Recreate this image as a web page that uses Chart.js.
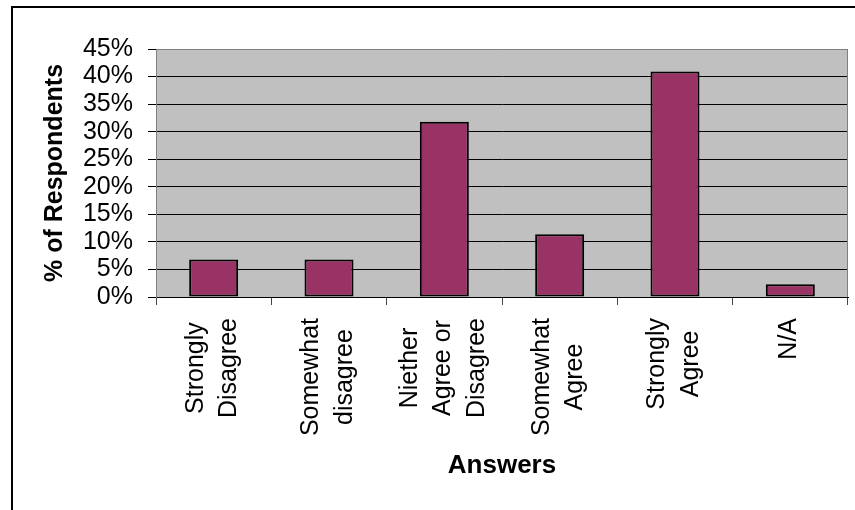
<!DOCTYPE html>
<html>
<head>
<meta charset="utf-8">
<script src="https://cdn.jsdelivr.net/npm/chart.js@4/dist/chart.umd.min.js"></script>
<style>
  html, body { margin: 0; padding: 0; background: #fff; overflow: hidden; }
  #wrap { position: relative; width: 855px; height: 510px; }
  #frame { position: absolute; left: 11px; top: 6px; width: 1000px; height: 1000px;
           border-left: 2px solid #000; border-top: 2px solid #000; }
  #chart { position: absolute; left: 0; top: 0; }
</style>
</head>
<body>
<div id="wrap">
  <div id="frame"></div>
  <canvas id="chart" width="855" height="510"></canvas>
</div>
<script>
// survey answers (multi-line category labels)
const categories = [
  ['Strongly', 'Disagree'],
  ['Somewhat', 'disagree'],
  ['Niether', 'Agree or', 'Disagree'],
  ['Somewhat', 'Agree'],
  ['Strongly', 'Agree'],
  ['N/A']
];
const respondentPct = [6.8, 6.8, 31.8, 11.4, 40.9, 2.3];
const yTicks = [0, 5, 10, 15, 20, 25, 30, 35, 40, 45];

const FONT = "'Liberation Sans', Arial, sans-serif";
const LABEL_SIZE = 25;
const LABEL_LINE = 33.5;

// grey plot area + right border
const plotBackground = {
  id: 'plotBackground',
  beforeDraw(chart) {
    const { ctx, chartArea: a } = chart;
    ctx.save();
    ctx.fillStyle = '#C0C0C0';
    ctx.fillRect(a.left, a.top, a.right - a.left, a.bottom - a.top);
    ctx.restore();
  },
  beforeDatasetsDraw(chart) {
    const { ctx, chartArea: a } = chart;
    ctx.save();
    ctx.strokeStyle = '#808080';
    ctx.lineWidth = 1;
    ctx.beginPath();
    ctx.moveTo(a.right - 0.5, a.top);
    ctx.lineTo(a.right - 0.5, a.bottom);
    ctx.stroke();
    ctx.restore();
  }
};

// vertical category labels, lines centred on each other like Excel does
const rotatedLabels = {
  id: 'rotatedLabels',
  afterDraw(chart) {
    const { ctx } = chart;
    const xs = chart.scales.x;
    ctx.save();
    ctx.font = LABEL_SIZE + 'px ' + FONT;
    ctx.fillStyle = '#000';
    ctx.textAlign = 'center';
    ctx.textBaseline = 'middle';
    categories.forEach((lines, i) => {
      const cx = xs.getPixelForValue(i);
      const maxW = Math.max(...lines.map(l => ctx.measureText(l).width));
      const cy = xs.top + 21 + maxW / 2;
      lines.forEach((line, j) => {
        ctx.save();
        ctx.translate(cx + (j - (lines.length - 1) / 2) * LABEL_LINE - 1, cy);
        ctx.rotate(-Math.PI / 2);
        ctx.fillText(line, 0, 0);
        ctx.restore();
      });
    });
    ctx.restore();
  }
};

new Chart(document.getElementById('chart'), {
  type: 'bar',
  data: {
    labels: categories,
    datasets: [{
      data: respondentPct,
      backgroundColor: '#993366',
      borderColor: '#000',
      borderWidth: 2,
      borderSkipped: false,
      barPercentage: 0.425,
      categoryPercentage: 1
    }]
  },
  options: {
    responsive: false,
    animation: false,
    layout: { padding: { top: 49, right: 7, left: 0, bottom: 0 } },
    plugins: { legend: { display: false }, tooltip: { enabled: false } },
    scales: {
      x: {
        offset: true,
        grid: { display: true, drawOnChartArea: false, drawTicks: true, tickLength: 8, color: '#444', offset: true },
        border: { color: '#000' },
        ticks: { display: false },
        title: {
          display: true, text: 'Answers', color: '#000',
          font: { family: FONT, size: 26, weight: 'bold' },
          padding: { top: 0, bottom: 29 }
        },
        afterFit(scale) { scale.height = 213; }
      },
      y: {
        min: 0, max: 45,
        afterBuildTicks(scale) { scale.ticks = yTicks.map(v => ({ value: v })); },
        grid: {
          color: ctx => (ctx.tick && ctx.tick.value === 45 ? '#808080' : '#000'),
          tickColor: '#000', tickLength: 8, lineWidth: 1
        },
        border: { color: '#808080' },
        ticks: {
          color: '#000', padding: 15, autoSkip: false,
          font: { family: FONT, size: LABEL_SIZE },
          callback: v => v + '%'
        },
        title: {
          display: true, text: '% of Respondents', color: '#000',
          font: { family: FONT, size: 25, weight: 'bold' },
          padding: { top: 40, bottom: 0 }
        },
        afterFit(scale) { scale.width = 156; }
      }
    }
  },
  plugins: [plotBackground, rotatedLabels]
});
</script>
</body>
</html>
